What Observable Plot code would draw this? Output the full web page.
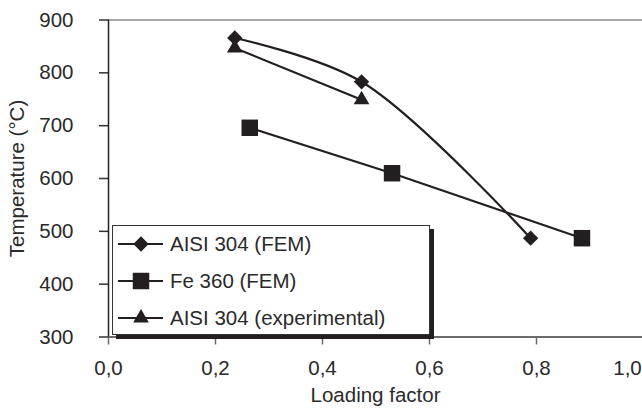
<!DOCTYPE html>
<html>
<head>
<meta charset="utf-8">
<script src="https://cdn.jsdelivr.net/npm/d3@7"></script>
<script src="https://cdn.jsdelivr.net/npm/@observablehq/plot@0.6"></script>
<style>
  html, body { margin: 0; padding: 0; background: #fff; }
  #chart { position: relative; width: 642px; height: 412px; overflow: hidden; font-family: "Liberation Sans", Arial, sans-serif; }
  #legend { position: absolute; left: 112px; top: 225px; width: 316px; height: 108px;
            border: 1px solid #333; background: #fff; box-shadow: 4px 4px 0 #231f20; }
  #legend svg { display: block; }
</style>
</head>
<body>
<div id="chart"></div>
<script>
// Loading factor vs. critical temperature
const loadingAisiFem = [0.236, 0.473, 0.789];
const tempAisiFem = [866, 783, 487];
const loadingFe360 = [0.264, 0.530, 0.885];
const tempFe360 = [696, 610, 487];
const loadingAisiExp = [0.236, 0.473];
const tempAisiExp = [847, 749];

const seriesNames = ["AISI 304 (FEM)", "Fe 360 (FEM)", "AISI 304 (experimental)"];
const xTicks = [0, 0.2, 0.4, 0.6, 0.8, 1.0];
const yTicks = [300, 400, 500, 600, 700, 800, 900];

const ink = "#231f20";
const textInk = "#2a2a2a";
const font = "Liberation Sans, Arial, sans-serif";
const fontSize = 20.5;
const commaFormat = d => d3.format(".1f")(d).replace(".", ",");

const toRows = (xs, ys) => xs.map((x, i) => ({x, y: ys[i]}));
const aisiFem = toRows(loadingAisiFem, tempAisiFem);
const fe360 = toRows(loadingFe360, tempFe360);
const aisiExp = toRows(loadingAisiExp, tempAisiExp);

// symbol + radius used by both the plot and the legend
const markers = [
  {symbol: "diamond2", r: 6.9},
  {symbol: "square", r: 9.3},
  {symbol: "triangle", r: 5.8}
];

const lastTick = xTicks[xTicks.length - 1];

const plot = Plot.plot({
  width: 642,
  height: 412,
  marginLeft: 108,
  marginTop: 19.5,
  marginBottom: 75.5,
  marginRight: 0,
  style: {fontFamily: font, fontSize: fontSize + "px", color: textInk, background: "#fff", overflow: "hidden"},
  x: {domain: [0, 1], range: [108, 643]},
  y: {domain: [300, 900], range: [336.5, 19.5]},
  marks: [
    Plot.ruleY([900], {stroke: "#a8a8a8", strokeWidth: 2}),
    Plot.ruleY([300], {stroke: "#6b6b6b", strokeWidth: 2}),
    // tick marks along the bottom
    Plot.axisX(xTicks, {tickSize: 8, stroke: "#6b6b6b", strokeWidth: 1.5, text: null, label: null}),
    // tick labels; the last one is pulled in from the right edge
    Plot.axisX(xTicks.slice(0, -1), {tickSize: 0, tickPadding: 23, tickFormat: commaFormat, label: null, fill: textInk, fontSize}),
    Plot.axisX([lastTick], {tickSize: 0, tickPadding: 23, dx: -16, tickFormat: commaFormat, label: null, fill: textInk, fontSize}),
    Plot.axisY(yTicks, {tickSize: 9, tickPadding: 26, stroke: "#333", strokeWidth: 1.5, tickFormat: d => String(d), label: null, fill: textInk, fontSize}),
    Plot.ruleX([0], {y1: 300, y2: 900, stroke: "#222", strokeWidth: 1.5}),
    Plot.text(["Temperature (°C)"], {frameAnchor: "left", textAnchor: "middle", dx: -91, rotate: -90, fontSize, fill: textInk}),
    Plot.text(["Loading factor"], {frameAnchor: "bottom", dy: 65, fontSize, fill: textInk}),
    Plot.line(aisiFem, {x: "x", y: "y", curve: "catmull-rom", stroke: ink, strokeWidth: 2.2}),
    Plot.line(fe360, {x: "x", y: "y", stroke: ink, strokeWidth: 2.2}),
    Plot.line(aisiExp, {x: "x", y: "y", stroke: ink, strokeWidth: 2.2}),
    Plot.dot(aisiFem, {x: "x", y: "y", symbol: markers[0].symbol, r: markers[0].r, fill: ink, stroke: "none"}),
    Plot.dot(fe360, {x: "x", y: "y", symbol: markers[1].symbol, r: markers[1].r, fill: ink, stroke: "none"}),
    Plot.dot(aisiExp, {x: "x", y: "y", symbol: markers[2].symbol, r: markers[2].r, fill: ink, stroke: "none"})
  ]
});

const chart = document.getElementById("chart");
chart.appendChild(plot);

// Legend box drawn over the plot area
const symbolTypes = {diamond2: d3.symbolDiamond2, square: d3.symbolSquare, triangle: d3.symbolTriangle};
const legend = d3.select(chart).append("div").attr("id", "legend");
const lsvg = legend.append("svg").attr("width", 316).attr("height", 108);
const rowY = [18, 55, 92];
seriesNames.forEach((name, i) => {
  const g = lsvg.append("g").attr("transform", `translate(0,${rowY[i]})`);
  g.append("line").attr("x1", 5).attr("x2", 50).attr("y1", 0).attr("y2", 0)
    .attr("stroke", ink).attr("stroke-width", 2.2);
  g.append("path")
    .attr("transform", "translate(28,0)")
    .attr("d", d3.symbol(symbolTypes[markers[i].symbol], Math.PI * markers[i].r ** 2)())
    .attr("fill", ink);
  g.append("text").attr("x", 57).attr("y", 0).attr("dy", "0.35em")
    .attr("font-family", font).attr("font-size", fontSize).attr("fill", textInk)
    .text(name);
});
</script>
</body>
</html>
